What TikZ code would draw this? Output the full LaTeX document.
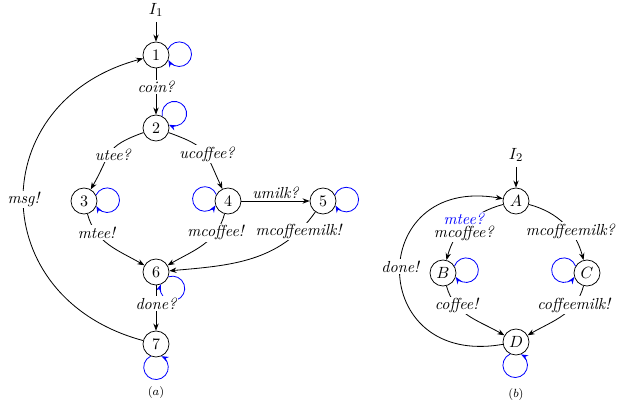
\documentclass[tikz,border=0pt]{standalone}
\usetikzlibrary{arrows.meta}
\newcommand\dfont{\fontsize{10.8pt}{13pt}\selectfont}
\tikzset{
  st/.style={circle, draw, minimum size=17.55pt, inner sep=0pt, line width=0.5pt, font=\dfont},
  tr/.style={-{Stealth[length=4.8pt,width=3.6pt]}, line width=0.55pt},
  lp/.style={blue, -{Stealth[length=4.8pt,width=3.6pt]}, line width=0.55pt},
  lab/.style={fill=white, inner sep=1pt, font=\dfont\itshape},
}
% self loop: node, start angle, end angle (on the node border), loop radius in pt
\def\slR{9.03}
\newcommand\selfloop[4]{%
  \pgfmathsetmacro\slphi{(#2+#3)/2}%
  \pgfmathsetmacro\slalpha{abs(#2-#3)/2}%
  \pgfmathsetmacro\sld{\slR*cos(\slalpha)+sqrt((#4)^2-(\slR*sin(\slalpha))^2)}%
  \pgfmathsetmacro\slbeta{atan2(\slR*sin(\slalpha),\slR*cos(\slalpha)-\sld)}%
  \ifdim #2pt>#3pt
    \pgfmathsetmacro\sla{\slphi+\slbeta}\pgfmathsetmacro\slb{\slphi-\slbeta}%
  \else
    \pgfmathsetmacro\sla{\slphi-\slbeta}\pgfmathsetmacro\slb{\slphi+\slbeta}%
  \fi
  \draw[lp] (#1.#2) arc[start angle=\sla, end angle=\slb, radius=#4pt];%
}
\begin{document}
\begin{tikzpicture}[x=0.675pt, y=0.675pt]
\useasboundingbox (0,0) rectangle (629,406);

% ---------- (a) ----------
\node[st] (n1) at (156,351) {1};
\node[st] (n2) at (156,278) {2};
\node[st] (n3) at (84,205) {3};
\node[st] (n4) at (228,205) {4};
\node[st] (n5) at (323,205) {5};
\node[st] (n6) at (156,134) {6};
\node[st] (n7) at (156,62) {7};
\node[font=\dfont] (I1) at (156,396) {$I_1$};
\node[font=\footnotesize] (capa) at (156,13) {$(a)$};

\selfloop{n1}{26}{-22}{8.3}
\selfloop{n2}{62}{14}{8.3}
\selfloop{n3}{26}{-22}{8.3}
\selfloop{n4}{151}{199}{8.3}
\selfloop{n5}{27}{-20}{8.3}
\selfloop{n6}{-21}{-69}{8.3}
\selfloop{n7}{-114}{-66}{8.3}

\draw[tr] (I1) -- (n1);
\draw[tr] (n1) -- node[lab, pos=0.4] (l12) {coin?} (n2);
\draw[tr] (n2) to[out=200, in=60, looseness=1.4] node[lab, pos=0.55, xshift=3pt] (l23) {utee?} (n3);
\draw[tr] (n2) to[out=-20, in=115, looseness=1.4] node[lab, pos=0.55, xshift=1pt] (l24) {ucoffee?} (n4);
\draw[tr] (n4) -- node[above, font=\dfont\itshape, inner sep=1.5pt] (l45) {umilk?} (n5);
\draw[tr] (n3) to[out=-75, in=150] node[lab, pos=0.26] (l36) {mtee!} (n6);
\draw[tr] (n4) to[out=-105, in=30] node[lab, pos=0.26] (l46) {mcoffee!} (n6);
\draw[tr] (n5) to[out=-125, in=5] node[lab, pos=0.15] (l56) {mcoffeemilk!} (n6);
\draw[tr] (n6) -- node[lab, pos=0.4] (l67) {done?} (n7);
\draw[tr] (n7) to[out=165, in=195, looseness=1.5] node[lab, pos=0.5] (l71) {msg!} (n1);

% ---------- (b) ----------
\node[st] (A) at (516,205) {$A$};
\node[st] (B) at (443,133) {$B$};
\node[st] (C) at (587,133) {$C$};
\node[st] (D) at (516,64) {$D$};
\node[font=\dfont] (I2) at (516,251) {$I_2$};
\node[font=\footnotesize] (capb) at (516,11) {$(b)$};

\selfloop{B}{31}{-17}{8.3}
\selfloop{C}{149}{197}{8.3}
\selfloop{D}{-116}{-68}{8.3}

\draw[tr] (I2) -- (A);
\draw[tr] (A) to[out=195, in=75] node[lab, pos=0.55, align=center, inner sep=0.5pt] (lAB) {\textcolor{blue}{mtee?}\\[-3.6pt]mcoffee?} (B);
\draw[tr] (A) to[out=-15, in=105] node[lab, pos=0.62] (lAC) {mcoffeemilk?} (C);
\draw[tr] (B) to[out=-75, in=150] node[lab, pos=0.28] (lBD) {coffee!} (D);
\draw[tr] (C) to[out=-105, in=30] node[lab, pos=0.28] (lCD) {coffeemilk!} (D);
\draw[tr] (D) to[out=190, in=170, looseness=2.45] node[lab, pos=0.52] (lDA) {done!} (A);
\end{tikzpicture}
\end{document}
